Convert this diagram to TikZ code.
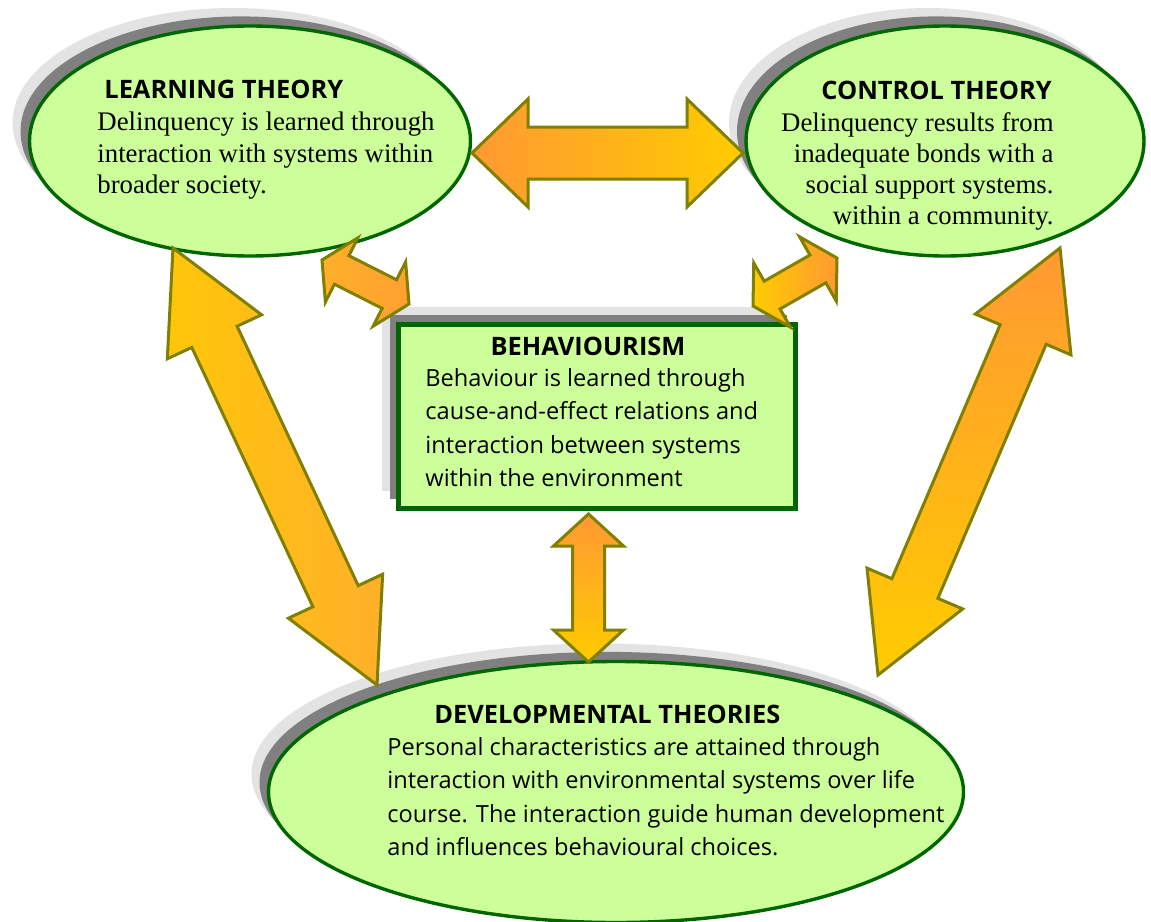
\documentclass[tikz,border=0pt]{standalone}
\usepackage{fontspec}
\setmainfont{Liberation Serif}
\newfontfamily\handfont{Open Sans}
\usetikzlibrary{shapes.geometric,shadows,calc}

\definecolor{leafgreen}{HTML}{CCFF99}
\definecolor{rimgreen}{HTML}{006600}
\definecolor{arrowrim}{HTML}{808000}
\definecolor{arrorange}{HTML}{FF9933}
\definecolor{arryellow}{HTML}{FFCC00}
\definecolor{arrmid}{HTML}{FFB02A}
\definecolor{shadedark}{HTML}{808080}
\definecolor{shadelight}{HTML}{E3E3E3}

\tikzset{
  twoshadow/.style={
    copy shadow={shadow xshift=-8.5pt, shadow yshift=9pt, fill=shadelight, draw=none},
    copy shadow={shadow xshift=-4.5pt, shadow yshift=4.8pt, fill=shadedark, draw=none}},
  theory/.style={ellipse, draw=rimgreen, line width=1.7pt, fill=leafgreen, inner sep=0pt, twoshadow},
  behavebox/.style={rectangle, draw=rimgreen, line width=2.5pt, fill=leafgreen, inner sep=0pt, twoshadow},
  headtext/.style={inner sep=0pt, font=\handfont\bfseries\fontsize{12.7}{15}\selectfont},
  serifbody/.style={inner sep=0pt, font=\fontsize{13.4}{15.6}\selectfont},
  handbody/.style={inner sep=0pt, align=left, font=\handfont\fontsize{11.8}{16.7}\selectfont},
  blockarrow/.style={draw=arrowrim, line width=1.5pt, line join=miter}
}

% double block arrow: [style] from, to, shaft half width, head half width, head length
\newcommand{\dblarrow}[6][]{%
  \path[blockarrow,#1] (#2)
    -- ($ ($(#2)!#6!(#3)$)!#5!90:(#3) $)
    -- ($ ($(#2)!#6!(#3)$)!#4!90:(#3) $)
    -- ($ ($(#3)!#6!(#2)$)!#4!-90:(#2) $)
    -- ($ ($(#3)!#6!(#2)$)!#5!-90:(#2) $)
    -- (#3)
    -- ($ ($(#3)!#6!(#2)$)!#5!90:(#2) $)
    -- ($ ($(#3)!#6!(#2)$)!#4!90:(#2) $)
    -- ($ ($(#2)!#6!(#3)$)!#4!-90:(#3) $)
    -- ($ ($(#2)!#6!(#3)$)!#5!-90:(#3) $)
    -- cycle;}

\begin{document}
\begin{tikzpicture}[x=0.5pt, y=-0.5pt]
  \useasboundingbox (0,0) rectangle (1151,921);

  % the four boxes
  \node [theory, minimum width=220.5pt, minimum height=115pt] (learn) at (250,141) {};
  \node [theory, minimum width=199pt, minimum height=115pt] (control) at (945,141) {};
  \node [theory, minimum width=347.5pt, minimum height=130.5pt] (develop) at (616,792) {};
  \node [behavebox, minimum width=198.5pt, minimum height=92pt] (behave) at (597,416.5) {};

  % texts
  \node [headtext, anchor=north west] (learnhead) at (104,80) {LEARNING THEORY};
  \node [serifbody, align=left, anchor=north west] (learnbody) at (97,112)
    {Delinquency is learned through\\interaction with systems within\\broader society.};

  \node [headtext, anchor=north west] (controlhead) at (821,81) {CONTROL THEORY};
  \node [serifbody, align=right, anchor=north east] (controlbody) at (1054,112)
    {Delinquency results from\\inadequate bonds with a\\social support systems.\\within a community.};

  \node [headtext, anchor=north] (behavehead) at (588,337) {BEHAVIOURISM};
  \node [handbody, anchor=north west] (behavebody) at (425,368)
    {Behaviour is learned through\\cause-and-effect relations and\\interaction between systems\\within the environment};

  \node [headtext, anchor=north west] (develophead) at (434,705) {DEVELOPMENTAL THEORIES};
  \node [handbody, anchor=north west] (developbody) at (387,737)
    {Personal characteristics are attained through\\interaction with environmental systems over life\\course. The interaction guide human development\\and influences behavioural choices.};

  % arrow ends
  \coordinate (lc-a) at (472,153);
  \coordinate (lc-b) at (743,153);
  \coordinate (ld-a) at (173,248);
  \coordinate (ld-b) at (377,685);
  \coordinate (cd-a) at (1060,248);
  \coordinate (cd-b) at (878,675);
  \coordinate (lb-a) at (322,260);
  \coordinate (lb-b) at (409,304);
  \coordinate (cb-a) at (753,306);
  \coordinate (cb-b) at (837,258);
  \coordinate (bd-a) at (588.5,514);
  \coordinate (bd-b) at (588.5,662);

  \dblarrow[left color=arrorange, right color=arryellow]{lc-a}{lc-b}{13pt}{27pt}{28pt}
  \dblarrow[left color=arryellow!80!arrmid, right color=arrmid]{ld-a}{ld-b}{12.5pt}{26pt}{49pt}
  \dblarrow[top color=arrorange, bottom color=arryellow]{cd-a}{cd-b}{12.5pt}{26pt}{47pt}
  \dblarrow[left color=arrmid, right color=arrorange!70!arrmid]{lb-a}{lb-b}{8pt}{18pt}{11pt}
  \dblarrow[left color=arryellow, right color=arrorange]{cb-a}{cb-b}{8pt}{18.5pt}{11pt}
  \dblarrow[top color=arrorange, bottom color=arryellow]{bd-a}{bd-b}{8pt}{17.5pt}{16pt}
\end{tikzpicture}
\end{document}
